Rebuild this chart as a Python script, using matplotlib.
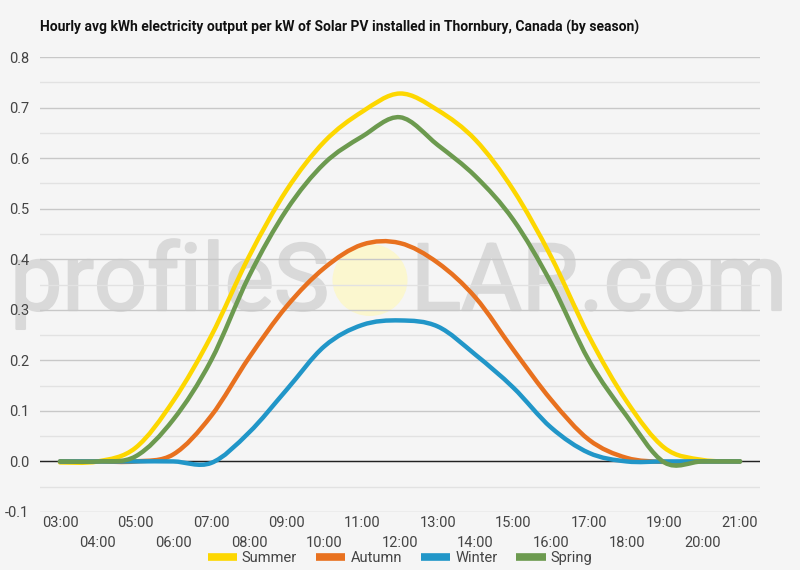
import numpy as np
import matplotlib
matplotlib.use("Agg")
import matplotlib.pyplot as plt
import matplotlib.patheffects as pe
from matplotlib.path import Path
from matplotlib.patches import PathPatch, Ellipse
from matplotlib.lines import Line2D

plt.rcParams['font.family'] = ['Roboto', 'DejaVu Sans']

hours = ["03:00", "04:00", "05:00", "06:00", "07:00", "08:00", "09:00", "10:00",
         "11:00", "12:00", "13:00", "14:00", "15:00", "16:00", "17:00", "18:00",
         "19:00", "20:00", "21:00"]
summer = [-0.002, 0.0, 0.027, 0.12, 0.248, 0.405, 0.537, 0.633, 0.692, 0.728,
          0.695, 0.636, 0.537, 0.405, 0.248, 0.119, 0.027, 0.003, 0.0]
autumn = [0.0, 0.0, 0.0, 0.014, 0.09, 0.205, 0.307, 0.383, 0.429, 0.432,
          0.393, 0.324, 0.221, 0.122, 0.043, 0.007, -0.001, 0.0, 0.0]
winter = [0.0, 0.0, 0.0, 0.0, -0.003, 0.057, 0.142, 0.228, 0.27, 0.279,
          0.267, 0.211, 0.146, 0.067, 0.017, 0.0, 0.0, 0.0, 0.0]
spring = [0.0, 0.0, 0.01, 0.083, 0.2, 0.366, 0.498, 0.59, 0.643, 0.681,
          0.626, 0.564, 0.478, 0.353, 0.2, 0.09, -0.002, 0.0, 0.0]

series = [("Summer", summer, "#fdd700"),
          ("Autumn", autumn, "#e8711f"),
          ("Winter", winter, "#2196c8"),
          ("Spring", spring, "#6c9a4f")]

bg = "#f5f5f5"


def smooth_path(x, y):
    # catmull-rom curve drawn as cubic beziers through the points
    x = np.asarray(x, float)
    y = np.asarray(y, float)
    n = len(x)
    verts = [(x[0], y[0])]
    codes = [Path.MOVETO]
    for i in range(n - 1):
        p0 = i - 1 if i > 0 else i
        p3 = i + 2 if i + 2 < n else i + 1
        c1 = (x[i] + (x[i + 1] - x[p0]) / 6, y[i] + (y[i + 1] - y[p0]) / 6)
        c2 = (x[i + 1] - (x[p3] - x[i]) / 6, y[i + 1] - (y[p3] - y[i]) / 6)
        verts += [c1, c2, (x[i + 1], y[i + 1])]
        codes += [Path.CURVE4] * 3
    return Path(verts, codes)


fig = plt.figure(figsize=(8, 5.7), dpi=100, facecolor=bg)
ax = fig.add_axes([0.05, 0.1018, 0.9, 0.798])
ax.patch.set_visible(False)

xs = np.arange(len(hours))
for name, vals, col in series:
    ax.add_patch(PathPatch(smooth_path(xs, vals), facecolor="none",
                           edgecolor=col, lw=3.2, zorder=3, capstyle="round",
                           joinstyle="round"))

ax.set_xlim(-0.53, len(hours) - 1 + 0.53)
ax.set_ylim(-0.1, 0.8)
ax.set_yticks(np.arange(-0.1, 0.81, 0.1))
ax.set_yticklabels([f"{v:.1f}" for v in np.arange(-0.1, 0.81, 0.1)])
ax.set_yticks(np.arange(-0.05, 0.8, 0.1), minor=True)
ax.grid(axis="y", which="major", color="#c8c8c8", lw=1)
ax.grid(axis="y", which="minor", color="#e2e2e2", lw=1)
ax.axhline(0, color="#222222", lw=1, zorder=2)
for s in ax.spines.values():
    s.set_visible(False)
ax.tick_params(axis="both", which="both", length=0, labelsize=10.5,
               labelcolor="#444444")
ax.tick_params(axis="y", pad=8)

ax.set_xticks(xs)
ax.set_xticklabels([h if i % 2 == 0 else "\n" + h for i, h in enumerate(hours)],
                   linespacing=1.55)
ax.tick_params(axis="x", pad=3)

fig.text(0.05, 0.951, "Hourly avg kWh electricity output per kW of Solar PV installed in Thornbury, Canada (by season)",
         fontsize=10, fontweight="bold", color="#111111", va="center", ha="left")

handles = [Line2D([0], [0], color=c, lw=5.5, solid_capstyle="butt")
           for _, _, c in series]
fig.legend(handles, [n for n, _, _ in series], loc="center", ncol=4,
           bbox_to_anchor=(0.5, 0.021), frameon=False, fontsize=10.5,
           handlelength=2.0, handletextpad=0.35, columnspacing=1.3,
           labelcolor="#444444")

# watermark, drawn under the axes
wm = "#d9d9d9"
fig.patches.append(Ellipse((370 / 800, 1 - 280 / 570), 75 / 800, 72 / 570,
                           transform=fig.transFigure, facecolor="#fbf7cf",
                           edgecolor="none", zorder=-1))
fx = [pe.withStroke(linewidth=1.6, foreground=wm)]
fig.text(329 / 800, 1 - 310 / 570, "profileS", fontsize=67, color=wm,
         ha="right", va="baseline", zorder=-1, path_effects=fx)
fig.text(411 / 800, 1 - 310 / 570, "LAR.com", fontsize=67, color=wm,
         ha="left", va="baseline", zorder=-1, path_effects=fx)

fig.savefig("out.png", dpi=100, facecolor=bg)
